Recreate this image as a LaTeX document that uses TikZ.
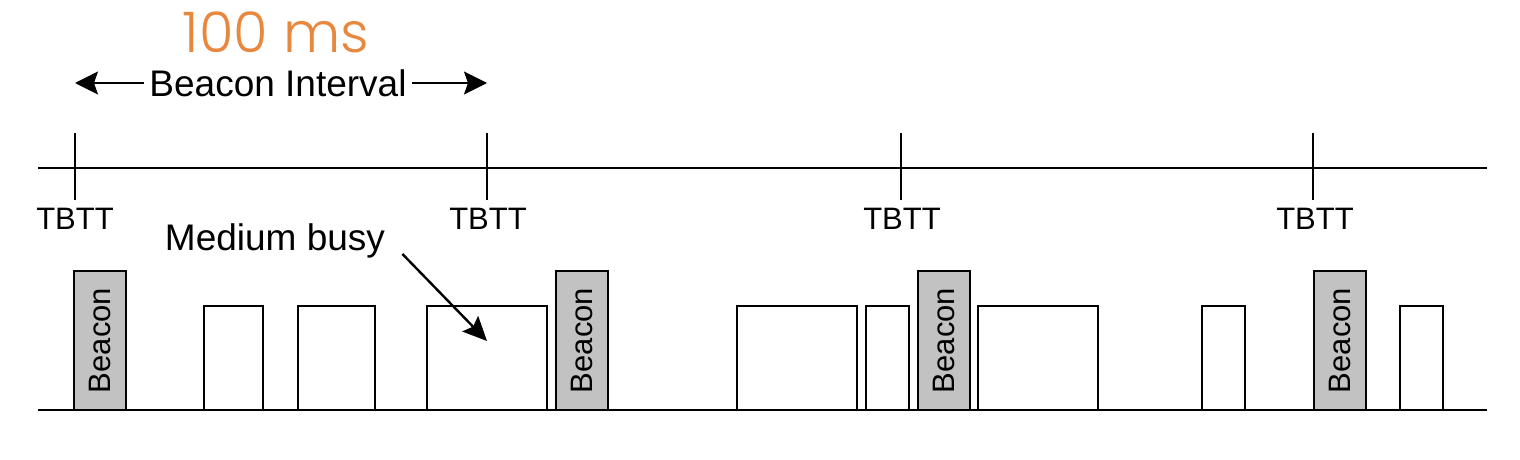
\documentclass[tikz,border=0pt]{standalone}
\usepackage{fontspec}
\setmainfont{Liberation Sans}
\newfontfamily\gothic{Poppins}[UprightFont=* Light]
\usetikzlibrary{arrows.meta}
\definecolor{msorange}{HTML}{E8883F}
\definecolor{beacongray}{HTML}{C2C2C2}
\tikzset{
  beacon/.style={draw, fill=beacongray, line width=1.2pt, anchor=south west,
    inner sep=0pt, outer sep=0pt, minimum width=26pt, minimum height=69.5pt,
    font=\fontsize{15.5}{16}\selectfont},
  busy/.style={draw, fill=white, line width=1.2pt, anchor=south west,
    inner sep=0pt, outer sep=0pt, minimum height=52pt},
  tbtt/.style={font=\fontsize{15.5}{16}\selectfont, inner sep=0pt},
  bigtext/.style={font=\fontsize{18.5}{20}\selectfont, inner sep=2.5pt},
  bigarrow/.style={line width=1pt, -{Stealth[length=11.5pt,width=11.5pt,inset=2pt]}}
}
\begin{document}
\begin{tikzpicture}[x=0.5pt,y=-0.5pt]
\useasboundingbox (0,0) rectangle (1520,460);

% time lines
\draw[line width=1pt] (38,168) -- (1487,168);
\draw[line width=1pt] (38,410) -- (1487,410);

% TBTT ticks
\draw[line width=1pt] (75,133) -- (75,200);
\draw[line width=1pt] (487,133) -- (487,200);
\draw[line width=1pt] (901,133) -- (901,200);
\draw[line width=1pt] (1313,133) -- (1313,200);

\node[tbtt] (tb1) at (75,218.5) {TBTT};
\node[tbtt] (tb2) at (488,218.5) {TBTT};
\node[tbtt] (tb3) at (902,218.5) {TBTT};
\node[tbtt] (tb4) at (1315,218.5) {TBTT};

% beacon interval
\node[font=\gothic\fontsize{28}{30}\selectfont, color=msorange] (ms) at (276,32) {100 ms};
\node[bigtext] (bi) at (278,83) {Beacon Interval};
\coordinate (bil) at (75,83);
\coordinate (bir) at (487,83);
\draw[bigarrow] (bi.west) -- (bil);
\draw[bigarrow] (bi.east) -- (bir);

% frames on the medium
\node[beacon] (b1) at (74,410) {\rotatebox{90}{Beacon}};
\node[busy, minimum width=29.5pt] (d1) at (204,410) {};
\node[busy, minimum width=38.5pt] (d2) at (298,410) {};
\node[busy, minimum width=60pt] (d3) at (427,410) {};
\node[beacon] (b2) at (556,410) {\rotatebox{90}{Beacon}};
\node[busy, minimum width=60pt] (d4) at (737,410) {};
\node[busy, minimum width=21.5pt] (d5) at (866,410) {};
\node[beacon] (b3) at (918,410) {\rotatebox{90}{Beacon}};
\node[busy, minimum width=60pt] (d6) at (978,410) {};
\node[busy, minimum width=21.5pt] (d7) at (1202,410) {};
\node[beacon] (b4) at (1314,410) {\rotatebox{90}{Beacon}};
\node[busy, minimum width=21.5pt] (d8) at (1400,410) {};

% medium busy
\node[bigtext] (mb) at (275,241) {Medium busy};
\draw[line width=1.2pt, -{Stealth[length=12pt,width=11pt,inset=2pt]}] ([xshift=6pt,yshift=-6.5pt]mb.east) -- ([yshift=8.5pt]d3.center);

\end{tikzpicture}
\end{document}
